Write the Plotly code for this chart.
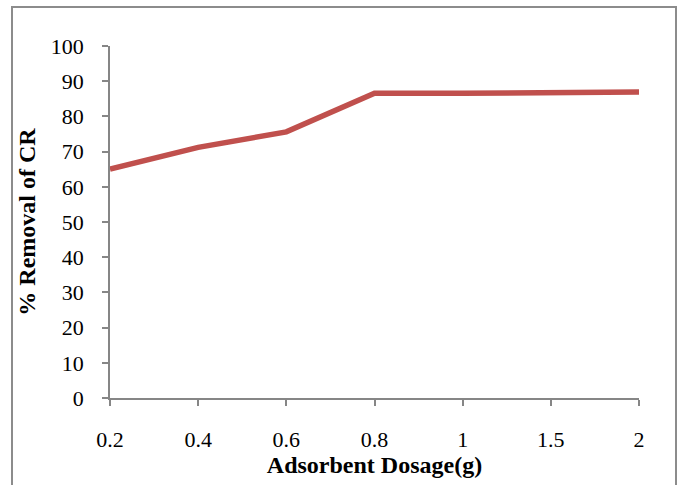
import plotly.graph_objects as go

dosage = ["0.2", "0.4", "0.6", "0.8", "1", "1.5", "2"]
removal = [65.0, 71.2, 75.6, 86.6, 86.6, 86.8, 86.9]
y_ticks = list(range(0, 101, 10))

W, H = 678, 485
L, R, T, B = 110, 39, 46, 87
pw, ph = W - L - R, H - T - B

def px_x(x):
    return (x - L) / pw

def px_y(y):
    return (H - B - y) / ph

tick_font = dict(family="Liberation Serif, Times New Roman, serif", size=22, color="#000000")
title_font = dict(family="Liberation Serif, Times New Roman, serif", size=24, color="#000000")
axis_col = "#868686"

fig = go.Figure(
    go.Scatter(
        x=dosage,
        y=removal,
        mode="lines",
        line=dict(color="#C0504D", width=5.5),
        hoverinfo="x+y",
    )
)

fig.update_layout(
    width=W,
    height=H,
    margin=dict(l=L, r=R, t=T, b=B),
    paper_bgcolor="white",
    plot_bgcolor="white",
    font=tick_font,
    showlegend=False,
    shapes=[
        dict(
            type="rect", xref="paper", yref="paper",
            x0=px_x(12), x1=px_x(676), y0=px_y(495), y1=px_y(7),
            line=dict(color="#8c8c8c", width=2), fillcolor="rgba(0,0,0,0)",
            layer="below",
        )
    ],
)

fig.update_xaxes(
    type="category",
    categoryorder="array",
    categoryarray=dosage,
    range=[0, len(dosage) - 1],
    showgrid=False,
    zeroline=False,
    showline=True,
    linecolor=axis_col,
    linewidth=1.5,
    ticks="outside",
    ticklen=6,
    tickcolor=axis_col,
    tickwidth=1.5,
    ticklabelstandoff=15,
    tickfont=tick_font,
    title=dict(
        text="<b>Adsorbent Dosage(g)</b>",
        font=title_font,
        standoff=0,
    ),
)

fig.update_yaxes(
    range=[0, 100],
    tickvals=y_ticks,
    showgrid=False,
    zeroline=False,
    showline=True,
    linecolor=axis_col,
    linewidth=1.5,
    ticks="outside",
    ticklen=6,
    tickcolor=axis_col,
    tickwidth=1.5,
    ticklabelstandoff=14,
    tickfont=tick_font,
    title=dict(
        text="<b>% Removal of CR</b>",
        font=title_font,
        standoff=8,
    ),
)

fig.write_html("out.html")
